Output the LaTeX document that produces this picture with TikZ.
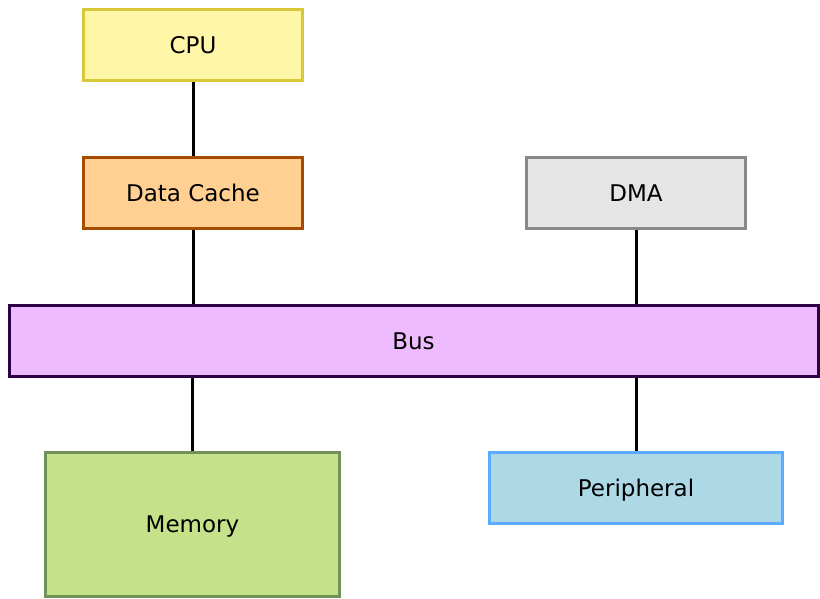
\documentclass[tikz,border=0pt]{standalone}
\usepackage{fontspec}
\setmainfont{DejaVu Sans}
\definecolor{cpuF}{HTML}{FFF6A8}
\definecolor{cpuD}{HTML}{D8C83A}
\definecolor{cacheF}{HTML}{FFD092}
\definecolor{cacheD}{HTML}{A64B00}
\definecolor{dmaF}{HTML}{E5E5E5}
\definecolor{dmaD}{HTML}{888888}
\definecolor{busF}{HTML}{EEBBFF}
\definecolor{busD}{HTML}{2E0045}
\definecolor{memF}{HTML}{C5E18A}
\definecolor{memD}{HTML}{70915A}
\definecolor{perF}{HTML}{ADD8E6}
\definecolor{perD}{HTML}{5CAAFF}
\tikzset{
  box/.style={draw, line width=3pt, rectangle, inner sep=0pt, minimum width=219pt, minimum height=71pt,
    font=\fontsize{23}{27}\selectfont, text=black, text height=16.8pt, text depth=0pt},
  link/.style={draw=black, line width=3pt}
}
\begin{document}
\begin{tikzpicture}[x=1pt,y=-1pt]
\useasboundingbox (0,0) rectangle (820,599);
\node[box, fill=cpuF, draw=cpuD] (cpu) at (193,45) {CPU};
\node[box, fill=cacheF, draw=cacheD] (cache) at (193,193) {Data Cache};
\node[box, fill=dmaF, draw=dmaD] (dma) at (636,193) {DMA};
\node[box, fill=busF, draw=busD, minimum width=809pt] (bus) at (413.5,341) {Bus};
\node[box, fill=memF, draw=memD, minimum width=294pt, minimum height=144pt] (mem) at (192.5,524) {Memory};
\node[box, fill=perF, draw=perD, minimum width=293pt] (per) at (636,488) {Peripheral};
\draw[link] (cpu.south) -- (cache.north);
\draw[link] (cache.south) -- (cache.south |- bus.north);
\draw[link] (dma.south) -- (dma.south |- bus.north);
\draw[link] (mem.north |- bus.south) -- (mem.north);
\draw[link] (per.north |- bus.south) -- (per.north);
\end{tikzpicture}
\end{document}
